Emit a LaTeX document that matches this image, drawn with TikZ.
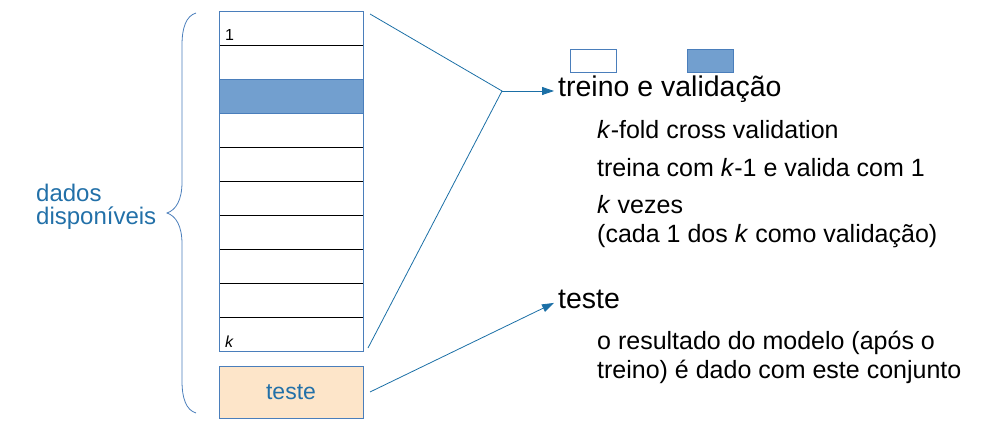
\documentclass[tikz,border=0pt]{standalone}
\usepackage{fontspec}
\setmainfont{Liberation Sans}
\usetikzlibrary{arrows.meta,positioning}

\definecolor{txtblue}{HTML}{2270A8}
\definecolor{conblue}{HTML}{1B6FA6}
\definecolor{rimblue}{HTML}{4A7EBB}
\definecolor{foldfill}{HTML}{729FCF}
\definecolor{testfill}{HTML}{FDE5C9}

\tikzset{
  rowcell/.style={minimum width=144pt, minimum height=34pt, inner sep=0pt, outer sep=0pt},
  conn/.style={conblue, line width=0.8pt},
  tip/.style={-{Triangle[length=12pt,width=8pt]}},
  bigtxt/.style={anchor=base west, inner sep=0pt, font=\fontsize{28.5}{32}\selectfont},
  subtxt/.style={anchor=base west, inner sep=0pt, align=left, font=\fontsize{25}{29}\selectfont},
}

\begin{document}
\begin{tikzpicture}[x=1pt, y=-1pt]
        \useasboundingbox (0,0) rectangle (996,435);

        % data rows
        \foreach \i in {1,...,10}
            \node[rowcell] (row\i) at (291, {11+34*(\i-1)+17}) {};
        \fill[foldfill] (row3.north west) rectangle (row3.south east);
        \foreach \i in {1,...,9}
            \draw[black, line width=0.8pt] (row\i.south west) -- (row\i.south east);
        \draw[rimblue, line width=0.8pt] (row3.north west) rectangle (row3.south east);
        \draw[rimblue, line width=0.8pt] (row1.north west) rectangle (row10.south east);
        \node[anchor=base west, inner sep=0pt, font=\fontsize{16}{18}\selectfont] (one) at (225,41) {1};
        \node[anchor=base west, inner sep=0pt, font=\fontsize{16}{18}\selectfont\itshape] (kk) at (225,348) {k};

        % test block
        \node[rowcell, minimum height=52pt, draw=rimblue, line width=0.8pt, fill=testfill,
              text=txtblue, font=\fontsize{23}{26}\selectfont] (testbox) at (291,392) {teste};

        % brace
        \draw[rimblue, line width=0.8pt] (196,13) .. controls (186,16) and (182,28) .. (182,45)
            -- (182,182) .. controls (182,200) and (176,210) .. (167,213)
            .. controls (176,216) and (182,226) .. (182,244)
            -- (182,381) .. controls (182,398) and (186,410) .. (196,413);
        \node[anchor=base west, inner sep=0pt, align=left, text=txtblue,
              font=\fontsize{24}{23}\selectfont] (avail) at (36,225) {dados\\disponíveis};

        % legend
        \node[draw=rimblue, line width=0.8pt, fill=white, minimum width=46pt, minimum height=23pt, inner sep=0pt] (legw) at (593,60.5) {};
        \node[draw=rimblue, line width=0.8pt, fill=foldfill, minimum width=46pt, minimum height=23pt, inner sep=0pt] (legb) at (710,60.5) {};

        % texts
        \node[bigtxt] (train) at (558,97) {treino e validação};
        \node[subtxt] (kfold) at (597,139) {\textit{k}-fold cross validation};
        \node[subtxt] (trains) at (597,177) {treina com \textit{k}-1 e valida com 1};
        \node[subtxt] (times) at (597,243) {\textit{k} vezes\\(cada 1 dos \textit{k} como validação)};
        \node[bigtxt] (test) at (558,309) {teste};
        \node[subtxt] (result) at (597,379) {o resultado do modelo (após o\\treino) é dado com este conjunto};

        % connectors
        \coordinate (split) at (502,91);
        \draw[conn] ([xshift=7pt,yshift=-3pt]row1.north east) -- (split) -- ([xshift=5pt,yshift=3pt]row10.south east);
        \draw[conn, tip] (split) -- ([xshift=-4pt]split -| train.west);
        \draw[conn, tip] ([xshift=7pt]testbox.east) -- ([xshift=-4pt,yshift=-3pt]test.west);
\end{tikzpicture}
\end{document}
